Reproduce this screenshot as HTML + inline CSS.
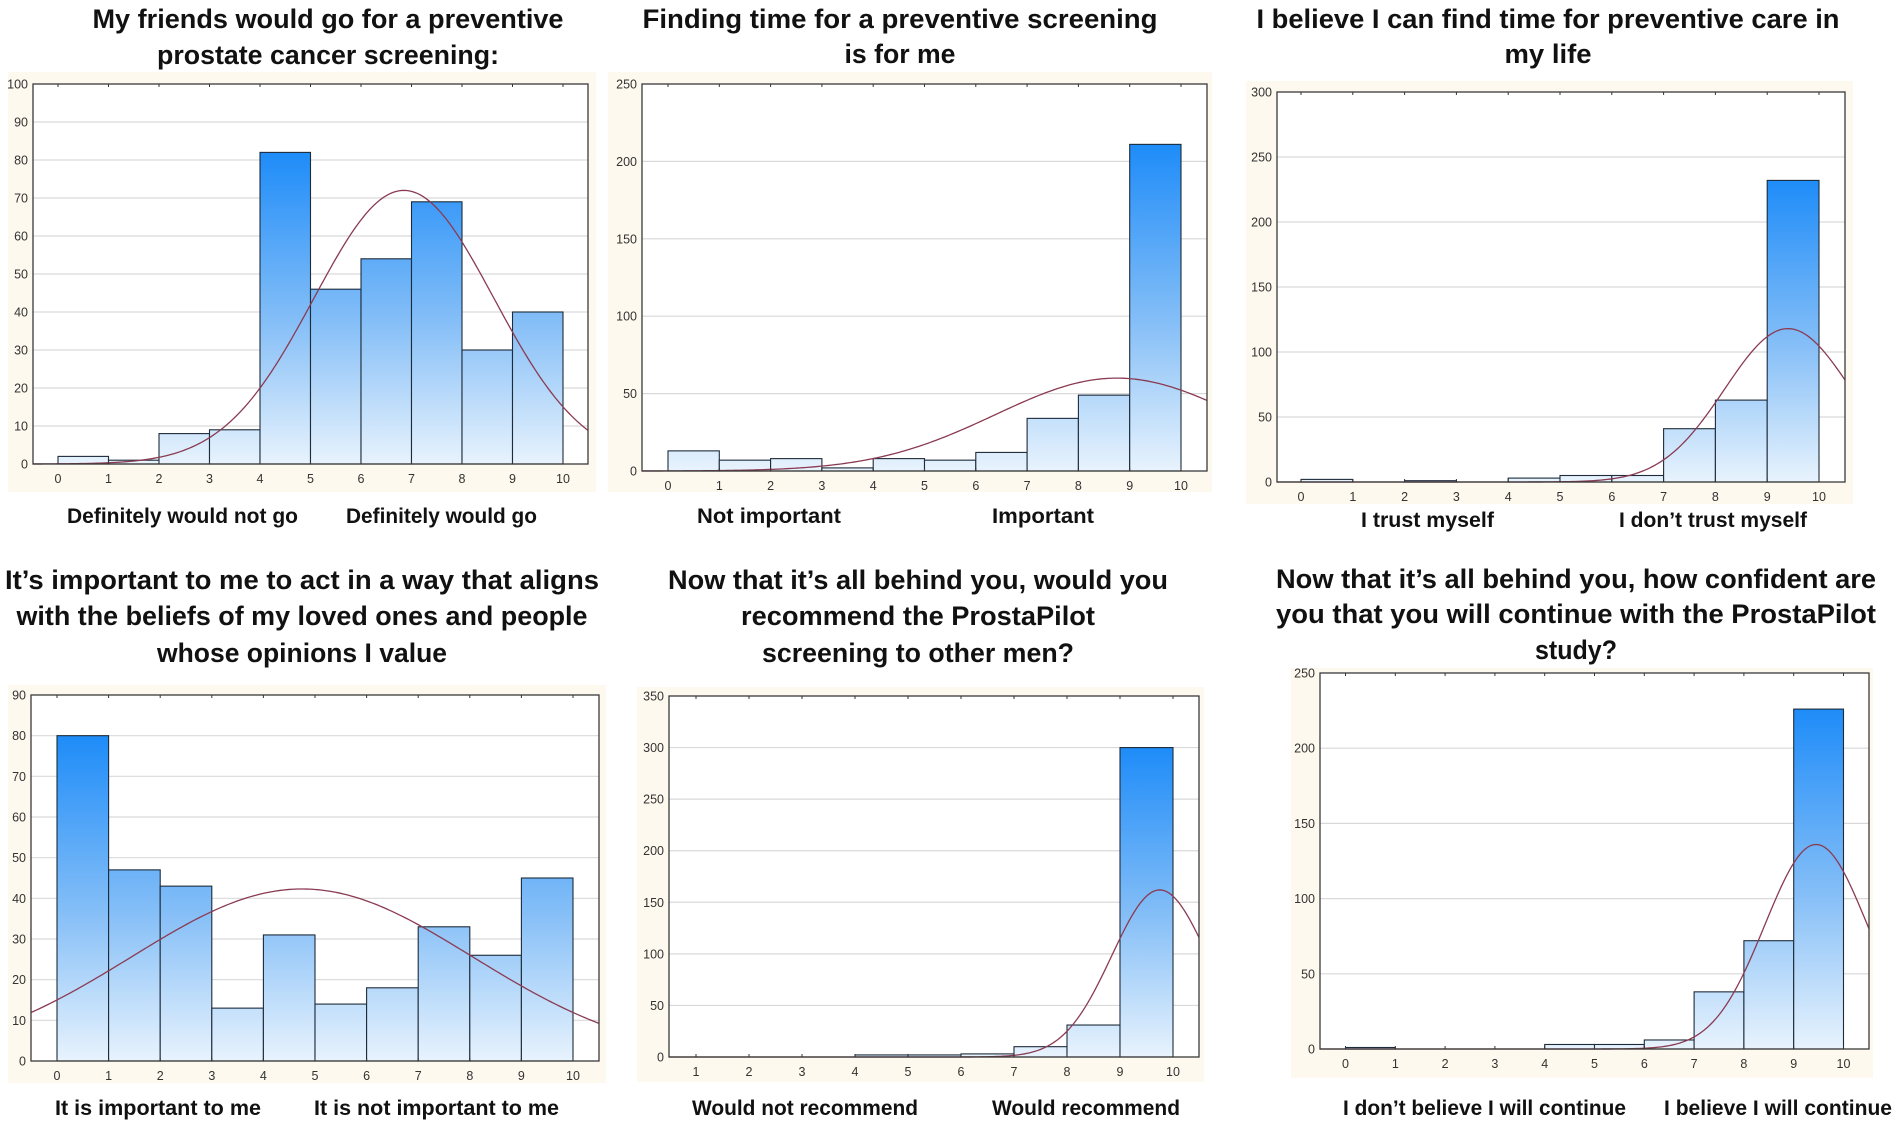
<!DOCTYPE html>
<html><head><meta charset="utf-8">
<style>
html,body{margin:0;padding:0;background:#fff;}
svg{display:block;}
text{font-family:"Liberation Sans",Arial,sans-serif;}
</style></head>
<body>
<svg id="fig" xmlns="http://www.w3.org/2000/svg" width="1902" height="1130" viewBox="0 0 1902 1130">
<defs></defs>
</svg>
<script>
// ---- data (counts per score bin) ----
const p1Counts = [2, 1, 8, 9, 82, 46, 54, 69, 30, 40];
const p2Counts = [13, 7, 8, 2, 8, 7, 12, 34, 49, 211];
const p3Counts = [2, 0, 1, 0, 3, 5, 5, 41, 63, 232];
const p4Counts = [80, 47, 43, 13, 31, 14, 18, 33, 26, 45];
const p5Counts = [0, 0, 0, 2, 2, 3, 10, 31, 300];
const p6Counts = [1, 0, 0, 0, 3, 3, 6, 38, 72, 226];
const p1BinStarts = [0,1,2,3,4,5,6,7,8,9];
const p5BinStarts = [1,2,3,4,5,6,7,8,9];
const xTicks0to10 = [0,1,2,3,4,5,6,7,8,9,10];
const xTicks1to10 = [1,2,3,4,5,6,7,8,9,10];
const p1YTicks = [0,10,20,30,40,50,60,70,80,90,100];
const p2YTicks = [0,50,100,150,200,250];
const p3YTicks = [0,50,100,150,200,250,300];
const p4YTicks = [0,10,20,30,40,50,60,70,80,90];
const p5YTicks = [0,50,100,150,200,250,300,350];
const p6YTicks = [0,50,100,150,200,250];
// fitted normal curve parameters: [mean, sd, peak]
const p1Curve = [6.85, 1.78, 72];
const p2Curve = [8.75, 2.37, 60];
const p3Curve = [9.4, 1.22, 118];
const p4Curve = [4.75, 3.3, 42.3];
const p5Curve = [9.75, 0.905, 162];
const p6Curve = [9.45, 1.03, 136];

const NS = "http://www.w3.org/2000/svg";
const svg = document.getElementById('fig');
const defs = svg.querySelector('defs');
function mk(tag, attrs, parent){
  const e = document.createElementNS(NS, tag);
  for (const k in attrs) e.setAttribute(k, attrs[k]);
  (parent||svg).appendChild(e);
  return e;
}

const panels = [
 {id:'p1', counts:p1Counts, starts:p1BinStarts, xt:xTicks0to10, yt:p1YTicks, curve:p1Curve,
  L:33,T:84,R:588,B:464, v0:0, px0:58, unit:50.5, bg:[8,72,596,492],
  title:[["My friends would go for a preventive",328,28,471],["prostate cancer screening:",328,64,342]],
  labels:[["Definitely would not go",67,521,231],["Definitely would go",346,521,191]]},
 {id:'p2', counts:p2Counts, starts:p1BinStarts, xt:xTicks0to10, yt:p2YTicks, curve:p2Curve,
  L:642,T:84,R:1207,B:471, v0:0, px0:668, unit:51.3, bg:[608,72,1212,492],
  title:[["Finding time for a preventive screening",900,28,515],["is for me",900,63,111]],
  labels:[["Not important",697,521,144],["Important",992,521,102]]},
 {id:'p3', counts:p3Counts, starts:p1BinStarts, xt:xTicks0to10, yt:p3YTicks, curve:p3Curve,
  L:1277,T:92,R:1845,B:482, v0:0, px0:1301, unit:51.8, bg:[1246,81,1853,504],
  title:[["I believe I can find time for preventive care in",1548,28,583],["my life",1548,63,87]],
  labels:[["I trust myself",1361,525,133],["I don\u2019t trust myself",1619,525,188]]},
 {id:'p4', counts:p4Counts, starts:p1BinStarts, xt:xTicks0to10, yt:p4YTicks, curve:p4Curve,
  L:31,T:695,R:599,B:1061, v0:0, px0:57, unit:51.6, bg:[8,685,606,1083],
  title:[["It\u2019s important to me to act in a way that aligns",302,589,594],["with the beliefs of my loved ones and people",302,625,571],["whose opinions I value",302,662,290]],
  labels:[["It is important to me",55,1113,206],["It is not important to me",314,1113,245]]},
 {id:'p5', counts:p5Counts, starts:p5BinStarts, xt:xTicks1to10, yt:p5YTicks, curve:p5Curve,
  L:669,T:696,R:1199,B:1057, v0:1, px0:696, unit:53, bg:[637,687,1204,1082],
  title:[["Now that it\u2019s all behind you, would you",918,589,500],["recommend the ProstaPilot",918,625,354],["screening to other men?",918,662,312]],
  labels:[["Would not recommend",692,1113,226],["Would recommend",992,1113,188]]},
 {id:'p6', counts:p6Counts, starts:p1BinStarts, xt:xTicks0to10, yt:p6YTicks, curve:p6Curve,
  L:1320,T:673,R:1869,B:1049, v0:0, px0:1345.5, unit:49.8, bg:[1291,668,1873,1078],
  title:[["Now that it\u2019s all behind you, how confident are",1576,588,600],["you that you will continue with the ProstaPilot",1576,623,600],["study?",1576,659,82]],
  labels:[["I don\u2019t believe I will continue",1343,1113,283],["I believe I will continue",1664,1113,228]]}
];

panels.forEach(p=>{
  const ymax = p.yt[p.yt.length-1];
  const xs = v => p.px0 + (v - p.v0)*p.unit;
  const ys = v => p.B - (v/ymax)*(p.B-p.T);
  const g = mk('g', {});
  
  
  const bg = mk('rect', {x:p.bg[0], y:p.bg[1], width:p.bg[2]-p.bg[0], height:p.bg[3]-p.bg[1], fill:'#fdf9ee'}, g);
  
  
  const pa = mk('rect', {x:p.L, y:p.T, width:p.R-p.L, height:p.B-p.T, fill:'#ffffff'}, g);
  
  
  p.yt.forEach(t=>{
    const y = ys(t);
    if (t>0 && t<ymax) {
      const gl = mk('line', {x1:p.L, x2:p.R, y1:y, y2:y, stroke:'#d9d9d9', 'stroke-width':1.2}, g);
      
      
    }
    const tl = mk('text', {x:p.L-5, y:y+4.5, 'text-anchor':'end', 'font-size':12.5, fill:'#333'}, g);
    tl.textContent = t;
    
    
  });
  const gid = p.id+'-grad';
  const lg = mk('linearGradient', {id:gid, gradientUnits:'userSpaceOnUse', x1:0, x2:0, y1:ys(Math.max(...p.counts)), y2:p.B}, defs);
  mk('stop', {offset:'0', 'stop-color':'#1e8cf8'}, lg);
  mk('stop', {offset:'0.55', 'stop-color':'#86bff7'}, lg);
  mk('stop', {offset:'1', 'stop-color':'#e8f3fd'}, lg);
  p.counts.forEach((c,i)=>{
    const x0 = xs(p.starts[i]), x1 = xs(p.starts[i]+1);
    const b = mk('rect', {x:x0, y:ys(c), width:x1-x0, height:p.B-ys(c), fill:'url(#'+gid+')', stroke:'#1d2b3a', 'stroke-width':1.1}, g);
    
    
  });
  const [mu, sd, pk] = p.curve;
  const vL = p.v0 + (p.L - p.px0)/p.unit, vR = p.v0 + (p.R - p.px0)/p.unit;
  let d = '';
  for (let k=0;k<=200;k++){
    const v = vL + (vR-vL)*k/200;
    const val = pk*Math.exp(-((v-mu)*(v-mu))/(2*sd*sd));
    d += (k?'L':'M') + xs(v).toFixed(2) + ' ' + ys(val).toFixed(2);
  }
  const cv = mk('path', {d:d, fill:'none', stroke:'#8a3b52', 'stroke-width':1.3}, g);
  
  
  const fr = mk('rect', {x:p.L, y:p.T, width:p.R-p.L, height:p.B-p.T, fill:'none', stroke:'#3a3a3a', 'stroke-width':1.3}, g);
  
  
  p.xt.forEach(t=>{
    const x = xs(t);
    mk('line', {x1:x, x2:x, y1:p.B, y2:p.B-3, stroke:'#333'}, g);
    mk('line', {x1:x, x2:x, y1:p.T, y2:p.T+3, stroke:'#333'}, g);
    const tl = mk('text', {x:x, y:p.B+19, 'text-anchor':'middle', 'font-size':12.5, fill:'#333'}, g);
    tl.textContent = t;
    
    
  });
  p.title.forEach(tt=>{
    const te = mk('text', {x:tt[1], y:tt[2], 'text-anchor':'middle', 'font-size':27, 'font-weight':'bold', fill:'#111', textLength:tt[3], lengthAdjust:'spacingAndGlyphs'}, g);
    te.textContent = tt[0];
    
    
  });
  p.labels.forEach(lb=>{
    const te = mk('text', {x:lb[1], y:lb[2]+2, 'font-size':21, 'font-weight':'bold', fill:'#111', textLength:lb[3], lengthAdjust:'spacingAndGlyphs'}, g);
    te.textContent = lb[0];
    
    
  });
});
</script>
</body></html>
